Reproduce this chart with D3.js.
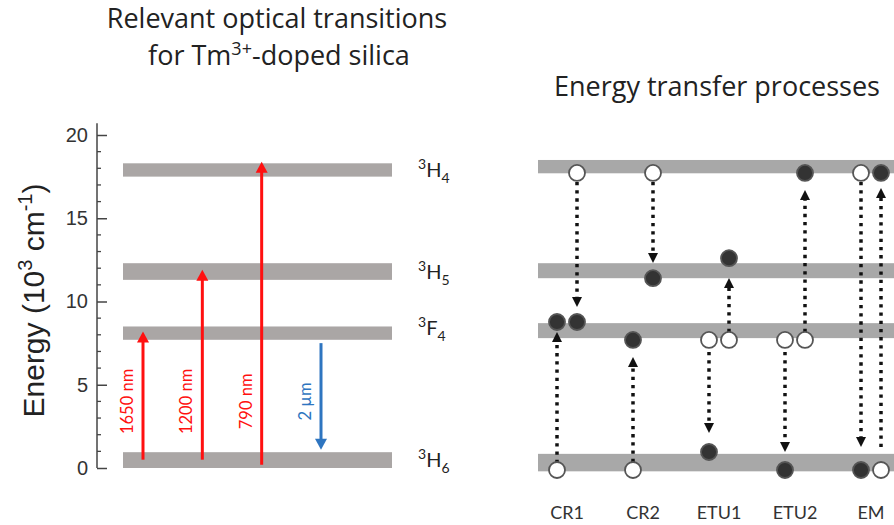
<!DOCTYPE html>
<html>
<head>
<meta charset="utf-8">
<script src="https://cdn.jsdelivr.net/npm/d3@7"></script>
<style>
  body { margin: 0; background: #fff; }
  svg { display: block; }
</style>
</head>
<body>
<svg id="chart" width="894" height="525"></svg>
<script>
// ---- Tm3+ energy levels, in 10^3 cm^-1 (lower / upper edge of each band) ----
const levelLetter = ["H", "F", "H", "H"];
const levelSup    = ["3", "3", "3", "3"];
const levelSub    = ["6", "4", "5", "4"];
const levelLow    = [0.0, 7.7, 11.3, 17.5];
const levelHigh   = [0.95, 8.5, 12.3, 18.3];

// ---- Optical transitions (arrow start / end energy) ----
const transitions = ["1650 nm", "1200 nm", "790 nm", "2 \u00b5m"];
const transFrom   = [0.5, 0.5, 0.2, 7.5];
const transTo     = [8.2, 11.9, 18.4, 1.1];
const transKind   = ["abs", "abs", "abs", "em"];

// ---- Axis ticks ----
const majorTicks = [0, 5, 10, 15, 20];
const minorTicks = d3.range(0, 21);

// ---- Energy transfer schematic ----
const processes   = ["CR1", "CR2", "ETU1", "ETU2", "EM"];
const etLevelLow  = [-0.2, 7.8, 11.4, 17.7];
const etLevelHigh = [0.85, 8.7, 12.3, 18.5];

// ions: process, ion (0 = left, 1 = right), energy, excited
const ionProcess = ["CR1","CR1","CR1","CR1", "CR2","CR2","CR2","CR2",
                    "ETU1","ETU1","ETU1","ETU1", "ETU2","ETU2","ETU2","ETU2",
                    "EM","EM","EM","EM"];
const ionSide    = [1, 1, 0, 0,  1, 1, 0, 0,  0, 1, 1, 0,  1, 0, 1, 0,  0, 1, 0, 1];
const ionEnergy  = [17.72, 8.77, 8.77, -0.12,
                    17.72, 11.4, 7.69, -0.12,
                    7.69, 7.69, 12.6, 0.96,
                    17.72, 7.69, 7.69, -0.12,
                    17.72, 17.72, -0.12, -0.12];
const ionExcited = [false, true, true, false,
                    false, true, true, false,
                    false, false, true, true,
                    true, false, false, true,
                    false, true, true, false];

// transfer arrows: process, ion, start energy, tip energy
const trProcess = ["CR1","CR1","CR2","CR2","ETU1","ETU1","ETU2","ETU2","EM","EM"];
const trSide    = [1, 0, 1, 0, 1, 0, 1, 0, 0, 1];
const trFrom    = [17.18, 0.3, 17.18, 0.36, 8.17, 6.97, 8.17, 6.97, 17.18, 1.26];
const trTo      = [9.67, 8.17, 12.31, 6.67, 11.41, 2.1, 16.7, 0.96, 1.26, 16.82];

// ---- Layout ----
const svg = d3.select("#chart");
const font = "'Open Sans', Lato, sans-serif";
const smallFont = "Lato, 'Open Sans', sans-serif";
const axisFont = "'Liberation Sans', Arial, sans-serif";

const y = d3.scaleLinear().domain([0, 20]).range([468, 135]);
const yTop = 20.7;

// left panel horizontal scales
const xBar = d3.scaleLinear().domain([0, 1]).range([123, 392]);
const xTrans = d3.scalePoint().domain(transitions).range([143, 321]);

// right panel horizontal scales
const xProc = d3.scalePoint().domain(processes).range([567, 871]);
const ionGap = 10;
const ionX = (p, s) => xProc(p) + (s ? ionGap : -ionGap);

// ---- Titles ----
const titleSize = 27;
const title1 = svg.append("text")
  .attr("x", 277).attr("y", 28)
  .attr("text-anchor", "middle")
  .style("font-family", font).style("font-size", titleSize + "px").attr("fill", "#222")
  .text("Relevant optical transitions");

const t2 = svg.append("text")
  .attr("x", 279).attr("y", 65)
  .attr("text-anchor", "middle")
  .style("font-family", font).style("font-size", titleSize + "px").attr("fill", "#222");
t2.append("tspan").text("for Tm");
t2.append("tspan").attr("dy", -10).style("font-size", "18px").text("3+");
t2.append("tspan").attr("dy", 10).text("-doped silica");

const title3 = svg.append("text")
  .attr("x", 717).attr("y", 96)
  .attr("text-anchor", "middle")
  .style("font-family", font).style("font-size", titleSize + "px").attr("fill", "#222")
  .text("Energy transfer processes");

// ---- Y axis ----
const axisG = svg.append("g").attr("transform", "translate(97,0)");
axisG.append("line")
  .attr("x1", 0).attr("x2", 0)
  .attr("y1", y(yTop)).attr("y2", y(0))
  .attr("stroke", "#444").attr("stroke-width", 1.5);
axisG.selectAll(".minor").data(minorTicks.filter(v => !majorTicks.includes(v)))
  .join("line")
  .attr("x1", 0).attr("x2", 4)
  .attr("y1", d => y(d)).attr("y2", d => y(d))
  .attr("stroke", "#444").attr("stroke-width", 1.3);

const yAxis = d3.axisLeft(y)
  .tickValues(majorTicks)
  .tickSizeInner(-10)
  .tickSizeOuter(0)
  .tickPadding(9)
  .tickFormat(d3.format("d"));
const gAxis = axisG.append("g").call(yAxis);
gAxis.select(".domain").remove();
gAxis.selectAll(".tick line").attr("stroke", "#444").attr("stroke-width", 1.5);
gAxis.selectAll(".tick text")
  .style("font-family", axisFont).style("font-size", "20px").attr("fill", "#333");

// axis title
const yl = svg.append("text")
  .attr("transform", `translate(44,${y(10) - 1}) rotate(-90)`)
  .attr("text-anchor", "middle")
  .style("font-family", axisFont).style("font-size", "30px").attr("fill", "#222");
yl.append("tspan").text("Energy (10");
yl.append("tspan").attr("dy", -12).style("font-size", "20px").text("3");
yl.append("tspan").attr("dy", 12).text(" cm");
yl.append("tspan").attr("dy", -12).style("font-size", "20px").text("-1");
yl.append("tspan").attr("dy", 12).text(")");

// ---- Left panel: level bands ----
const levelIdx = d3.range(levelLow.length);
svg.append("g").selectAll("rect").data(levelIdx).join("rect")
  .attr("x", xBar(0)).attr("width", xBar(1) - xBar(0))
  .attr("y", i => y(levelHigh[i]))
  .attr("height", i => y(levelLow[i]) - y(levelHigh[i]))
  .attr("fill", "#aaa6a5");

// level labels
const lbl = svg.append("g").selectAll("text").data(levelIdx).join("text")
  .attr("x", 418)
  .attr("y", i => y((levelLow[i] + levelHigh[i]) / 2) + (levelLetter[i] === "F" ? 2 : 7))
  .style("font-family", smallFont).style("font-size", "20px").attr("fill", "#222");
lbl.append("tspan").attr("dy", -8).style("font-size", "14px").text(i => levelSup[i]);
lbl.append("tspan").attr("dy", 8).text(i => levelLetter[i]);
lbl.append("tspan").attr("dy", 6).style("font-size", "14px").text(i => levelSub[i]);

// ---- Left panel: transition arrows ----
const transColor = k => k === "abs" ? "#ff1010" : "#2e75c0";
const tIdx = d3.range(transitions.length);
const headL = 11, headW = 6;
const tg = svg.append("g");
tg.selectAll("line").data(tIdx).join("line")
  .attr("x1", i => xTrans(transitions[i]))
  .attr("x2", i => xTrans(transitions[i]))
  .attr("y1", i => y(transFrom[i]))
  .attr("y2", i => y(transTo[i]) + (transTo[i] > transFrom[i] ? headL - 1 : -(headL - 1)))
  .attr("stroke", i => transColor(transKind[i]))
  .attr("stroke-width", 3);
tg.selectAll("path").data(tIdx).join("path")
  .attr("d", i => {
    const x = xTrans(transitions[i]), ty = y(transTo[i]);
    const dir = transTo[i] > transFrom[i] ? 1 : -1;
    return `M${x},${ty} L${x - headW},${ty + dir * headL} L${x + headW},${ty + dir * headL} Z`;
  })
  .attr("fill", i => transColor(transKind[i]));
tg.selectAll("text").data(tIdx).join("text")
  .attr("transform", i => `translate(${xTrans(transitions[i]) - 10},${y(4)}) rotate(-90)`)
  .attr("text-anchor", "middle")
  .style("font-family", smallFont).style("font-size", "16.5px")
  .attr("fill", i => transColor(transKind[i]))
  .text(i => transitions[i]);

// ---- Right panel: level bands ----
svg.append("g").selectAll("rect").data(d3.range(etLevelLow.length)).join("rect")
  .attr("x", 538).attr("width", 894 - 538)
  .attr("y", i => y(etLevelHigh[i]))
  .attr("height", i => y(etLevelLow[i]) - y(etLevelHigh[i]))
  .attr("fill", "#a8a8a8");

// ---- Right panel: dotted transfer arrows ----
const tr = svg.append("g");
const dHeadL = 10, dHeadW = 5;
const trIdx = d3.range(trProcess.length);
tr.selectAll("line").data(trIdx).join("line")
  .attr("x1", i => ionX(trProcess[i], trSide[i]))
  .attr("x2", i => ionX(trProcess[i], trSide[i]))
  .attr("y1", i => y(trFrom[i]))
  .attr("y2", i => y(trTo[i]) + (trTo[i] > trFrom[i] ? dHeadL : -dHeadL))
  .attr("stroke", "#111")
  .attr("stroke-width", 3.5)
  .attr("stroke-dasharray", "3.3,4.9");
tr.selectAll("path").data(trIdx).join("path")
  .attr("d", i => {
    const x = ionX(trProcess[i], trSide[i]), ty = y(trTo[i]);
    const dir = trTo[i] > trFrom[i] ? 1 : -1;
    return `M${x},${ty} L${x - dHeadW},${ty + dir * dHeadL} L${x + dHeadW},${ty + dir * dHeadL} Z`;
  })
  .attr("fill", "#111");

// ---- Right panel: ions ----
svg.append("g").selectAll("circle").data(d3.range(ionProcess.length)).join("circle")
  .attr("cx", i => ionX(ionProcess[i], ionSide[i]))
  .attr("cy", i => y(ionEnergy[i]))
  .attr("r", 8)
  .attr("fill", i => ionExcited[i] ? "#333" : "#fff")
  .attr("stroke", "#555")
  .attr("stroke-width", 1.8);

// process labels
svg.append("g").selectAll("text").data(processes).join("text")
  .attr("x", d => xProc(d)).attr("y", 519)
  .attr("text-anchor", "middle")
  .style("font-family", smallFont).style("font-size", "18px").attr("fill", "#333")
  .text(d => d);
</script>
</body>
</html>
